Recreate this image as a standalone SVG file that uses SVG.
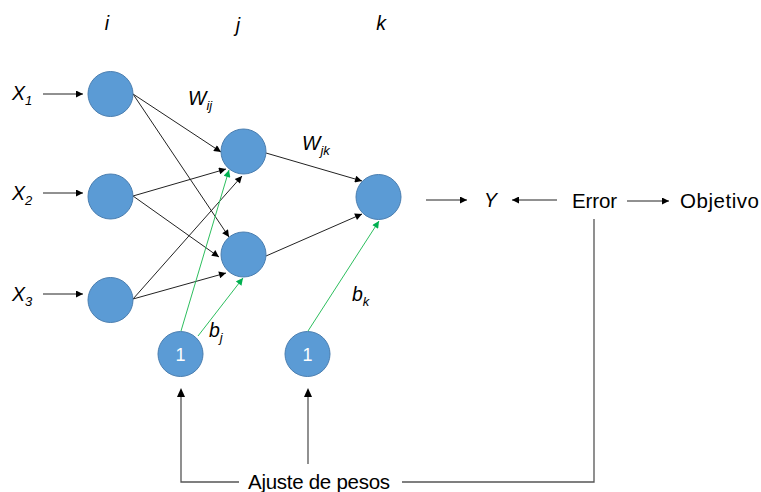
<svg xmlns="http://www.w3.org/2000/svg" width="761" height="492" viewBox="0 0 761 492">
<style>
.n{fill:#5B9BD5;stroke:#4A7EB0;stroke-width:1}
.t{font-family:"Liberation Sans",Arial,sans-serif;fill:#000}
.it{font-style:italic;font-size:19.5px}
.sub{font-size:13px}
.r{font-size:20.5px}
.e{stroke:#222;stroke-width:1;fill:none;marker-end:url(#ah)}
.g{stroke:#2DBE5E;stroke-width:1;fill:none;marker-end:url(#ag)}
.f{stroke:#555;stroke-width:1.3;fill:none}
</style>
<defs>
<marker id="ah" viewBox="0 0 10 10" refX="10" refY="5" markerWidth="9" markerHeight="7" markerUnits="userSpaceOnUse" orient="auto"><path d="M0,0L10,5L0,10z" fill="#000"/></marker>
<marker id="ag" viewBox="0 0 10 10" refX="10" refY="5" markerWidth="9" markerHeight="7" markerUnits="userSpaceOnUse" orient="auto"><path d="M0,0L10,5L0,10z" fill="#00B050"/></marker>
</defs>
<rect width="761" height="492" fill="#fff"/>
<g id="labels" class="t">
<text x="107" y="30" class="it" text-anchor="middle">i</text>
<text x="238" y="32" class="it" text-anchor="middle">j</text>
<text x="381" y="30" class="it" text-anchor="middle">k</text>
<text x="12" y="100" class="it">X<tspan class="sub" dy="5">1</tspan></text>
<text x="12" y="200" class="it">X<tspan class="sub" dy="5">2</tspan></text>
<text x="12" y="301" class="it">X<tspan class="sub" dy="5">3</tspan></text>
<text x="188" y="105" class="it">W<tspan class="sub" dy="5">ij</tspan></text>
<text x="302" y="150" class="it">W<tspan class="sub" dy="5">jk</tspan></text>
<text x="209" y="337" class="it">b<tspan class="sub" dy="5">j</tspan></text>
<text x="352" y="301" class="it">b<tspan class="sub" dy="5">k</tspan></text>
<text x="484" y="207" class="it">Y</text>
<text x="572" y="208" class="r" textLength="45">Error</text>
<text x="680" y="208" class="r" textLength="79">Objetivo</text>
<text x="248" y="489" class="r" textLength="142">Ajuste de pesos</text>
</g>
<g id="connectors">
<line class="e" x1="43" y1="94" x2="83" y2="94"/>
<line class="e" x1="43" y1="193" x2="83" y2="193"/>
<line class="e" x1="43" y1="294" x2="83" y2="294"/>
<line class="e" x1="133" y1="94" x2="221" y2="152"/>
<line class="e" x1="133" y1="94" x2="229" y2="237"/>
<line class="e" x1="133" y1="196" x2="226" y2="169"/>
<line class="e" x1="133" y1="196" x2="219" y2="257"/>
<line class="e" x1="133" y1="299" x2="242" y2="176"/>
<line class="e" x1="133" y1="299" x2="226" y2="273"/>
<line class="e" x1="266" y1="153" x2="362" y2="181"/>
<line class="e" x1="266" y1="256" x2="362" y2="214"/>
<line class="g" x1="181" y1="331" x2="229" y2="170"/>
<line class="g" x1="198" y1="336" x2="243" y2="278"/>
<line class="g" x1="308" y1="331" x2="379" y2="221"/>
<line class="e" x1="426" y1="200" x2="467" y2="200"/>
<line class="e" x1="557" y1="200" x2="512" y2="200"/>
<line class="e" x1="627" y1="201" x2="669" y2="201"/>
<polyline class="f" points="594,219 594,482 402,482"/>
<polyline class="f" points="239,482 181,482 181,390"/>
<line class="f" x1="308" y1="464" x2="308" y2="390"/>
<path d="M181,388l-4,9h8z" fill="#000"/>
<path d="M308,388l-4,9h8z" fill="#000"/>
</g>
<g id="i1"><circle class="n" cx="110.5" cy="94" r="22.5"/></g>
<g id="i2"><circle class="n" cx="110.5" cy="196.5" r="22.5"/></g>
<g id="i3"><circle class="n" cx="110.5" cy="300" r="22.5"/></g>
<g id="j1"><circle class="n" cx="243.5" cy="151.5" r="22.5"/></g>
<g id="j2"><circle class="n" cx="243.5" cy="254.5" r="22.5"/></g>
<g id="k1"><circle class="n" cx="378.5" cy="197" r="22.5"/></g>
<g id="b1"><circle class="n" cx="180.5" cy="354" r="22.5"/><text x="180.5" y="360.5" class="t" font-size="18" style="fill:#fff" text-anchor="middle">1</text></g>
<g id="b2"><circle class="n" cx="307.5" cy="354" r="22.5"/><text x="307.5" y="360.5" class="t" font-size="18" style="fill:#fff" text-anchor="middle">1</text></g>
</svg>
